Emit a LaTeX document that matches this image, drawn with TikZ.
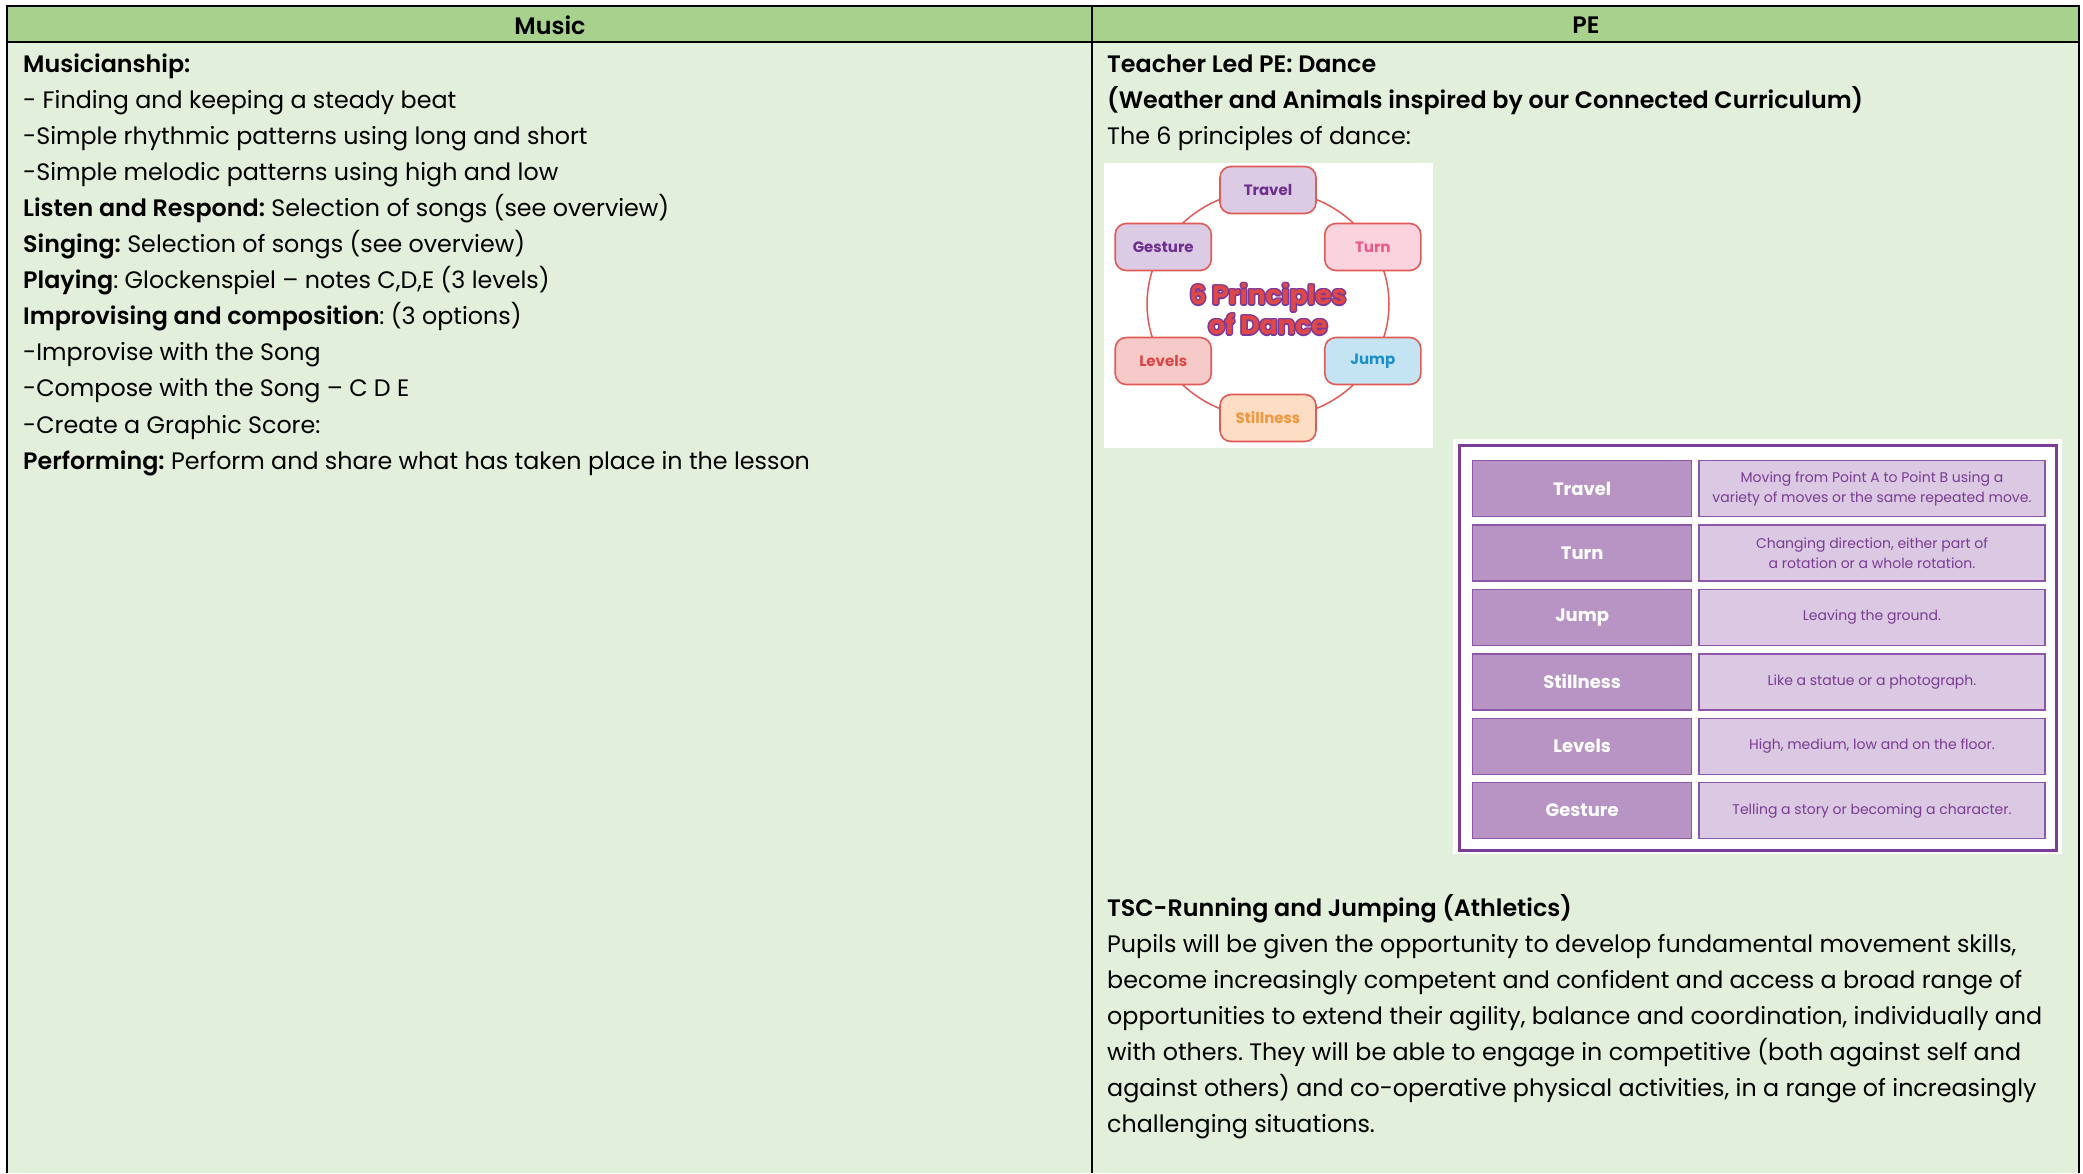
\documentclass[tikz,border=0pt]{standalone}
\usepackage{fontspec}
\setmainfont{Poppins}[BoldFont={Poppins SemiBold}]
\newfontfamily\heavyfont{Poppins Bold}
\usetikzlibrary{positioning}
\definecolor{hdrgreen}{HTML}{A9D18E}
\definecolor{bodygreen}{HTML}{E2EFDA}
\definecolor{ringred}{HTML}{E05A56}
\definecolor{travfill}{HTML}{DCCBE4}
\definecolor{purptext}{HTML}{6D2E8E}
\definecolor{turnfill}{HTML}{FBD3DE}
\definecolor{turntext}{HTML}{EC5A86}
\definecolor{jumpfill}{HTML}{C5E4F3}
\definecolor{jumptext}{HTML}{1B8FCB}
\definecolor{stillfill}{HTML}{FDDDC3}
\definecolor{stilltext}{HTML}{F0963E}
\definecolor{levfill}{HTML}{F7CACA}
\definecolor{levtext}{HTML}{DA4646}
\definecolor{titlered}{HTML}{E04848}
\definecolor{titlepurple}{HTML}{7A3A9A}
\definecolor{framepurple}{HTML}{7D3C98}
\definecolor{cellline}{HTML}{8E56A8}
\definecolor{cellmid}{HTML}{B794C4}
\definecolor{celllight}{HTML}{DBC8E2}
\definecolor{deftext}{HTML}{7A3B93}
\tikzset{
  celltext/.style={anchor=base west, inner sep=0pt, font=\fontsize{23.8}{28}\selectfont},
  wheelbox/.style={draw=ringred, line width=1.6pt, rounded corners=11pt,
    minimum width=96pt, minimum height=47pt, inner sep=0pt,
    font=\fontsize{15}{17}\selectfont\heavyfont},
  titletext/.style={align=center, inner sep=0pt,
    font=\fontsize{26.5}{30}\selectfont\heavyfont},
  movecell/.style={draw=cellline, line width=1.3pt, fill=cellmid, text=white,
    minimum width=219pt, minimum height=56pt, inner sep=0pt,
    font=\fontsize{18}{20}\selectfont\heavyfont},
  defcell/.style={draw=cellline, line width=1.3pt, fill=celllight, text=deftext,
    minimum width=346pt, minimum height=56pt, inner sep=0pt, align=center,
    font=\fontsize{14}{20}\selectfont},
}
\begin{document}
\frenchspacing
\begin{tikzpicture}[x=1pt,y=-1pt]
  \useasboundingbox (0,0) rectangle (2083,1173);
  \fill[white] (0,0) rectangle (2083,1173);

  % table frame
  \fill[hdrgreen] (7,6) rectangle (2079,42);
  \fill[bodygreen] (7,42) rectangle (2079,1173);
  \draw[line width=2pt] (7,1173) -- (7,6) -- (2079,6) -- (2079,1173);
  \draw[line width=2pt] (7,42) -- (2079,42);
  \draw[line width=1.5pt] (1092,6) -- (1092,1173);
  \node[font=\fontsize{23.8}{28}\selectfont\bfseries] (music) at (550,25.5) {Music};
  \node[font=\fontsize{23.8}{28}\selectfont\bfseries] (pe) at (1586,25.5) {PE};

  \foreach \i/\txt in
  {
    1/{\textbf{Musicianship:}},
    2/{- Finding and keeping a steady beat},
    3/{-Simple rhythmic patterns using long and short},
    4/{-Simple melodic patterns using high and low},
    5/{\textbf{Listen and Respond:} Selection of songs (see overview)},
    6/{\textbf{Singing:} Selection of songs (see overview)},
    7/{\textbf{Playing}: Glockenspiel – notes C,D,E (3 levels)},
    8/{\textbf{Improvising and composition}: (3 options)},
    9/{-Improvise with the Song},
    10/{-Compose with the Song – C D E},
    11/{-Create a Graphic Score:},
    12/{\textbf{Performing:} Perform and share what has taken place in the lesson}%
  }
  {
   \node[celltext] (mus\i) at (23,{72+36.1*(\i-1)}) {\txt};
  }

  \foreach \i/\txt in
  {
    1/{\textbf{Teacher Led PE: Dance}},
    2/{\textbf{(Weather and Animals inspired by our Connected Curriculum)}},
    3/{The 6 principles of dance:}%
  }
  {
   \node[celltext] (dance\i) at (1107,{72+36*(\i-1)}) {\txt};
  }

  % the wheel picture
  \fill[white] (1104,163) rectangle (1433,448);
  \coordinate (hub) at (1268,304);
  \coordinate (title) at (1268,309);
  \draw[ringred, line width=1.5pt] (hub) ellipse (121 and 114);
  \foreach \a/\nm/\fc/\tc in
  {%
    270/Travel/travfill/purptext, 330/Turn/turnfill/turntext,
    30/Jump/jumpfill/jumptext, 90/Stillness/stillfill/stilltext,
    150/Levels/levfill/levtext, 210/Gesture/travfill/purptext%
  }
  {
   \node[wheelbox, fill=\fc, text=\tc] (w\nm) at ([shift={(\a:121 and 114)}]hub) {\nm};
  }
  \foreach \dx/\dy [count=\k] in {-1.5/0, 1.5/0, 0/-1.5, 0/1.5, -1.1/-1.1, 1.1/1.1, -1.1/1.1, 1.1/-1.1}
  {
   \node[titletext, text=titlepurple] (halo\k) at ([shift={(\dx,\dy)}]title) {6 Principles\\of Dance};
  }
  \node[titletext, text=titlered] (wtitle) at (title) {6 Principles\\of Dance};

  % the table of moves
  \fill[white] (1453,439) rectangle (2062,854);
  \draw[framepurple, line width=3pt] (1459,445) rectangle (2056,850);
  \foreach \i/\mv/\df in
  {
    1/Travel/{Moving from Point A to Point B using a\\variety of moves or the same repeated move.},
    2/Turn/{Changing direction, either part of\\a rotation or a whole rotation.},
    3/Jump/{Leaving the ground.},
    4/Stillness/{Like a statue or a photograph.},
    5/Levels/{High, medium, low and on the floor.},
    6/Gesture/{Telling a story or becoming a character.}%
  }
  {
   \node[movecell, anchor=north west] (mv\i) at (1472,{460+64.4*(\i-1)}) {\mv};
   \node[defcell, right=6pt of mv\i] (df\i) {\df};
  }

  \foreach \i/\txt in
  {
    1/{\textbf{TSC-Running and Jumping (Athletics)}},
    2/{Pupils will be given the opportunity to develop fundamental movement skills,},
    3/{become increasingly competent and confident and access a broad range of},
    4/{opportunities to extend their agility, balance and coordination, individually and},
    5/{with others. They will be able to engage in competitive (both against self and},
    6/{against others) and co-operative physical activities, in a range of increasingly},
    7/{challenging situations.}%
  }
  {
   \node[celltext] (tsc\i) at (1107,{916+36.1*(\i-1)}) {\txt};
  }
\end{tikzpicture}
\end{document}
